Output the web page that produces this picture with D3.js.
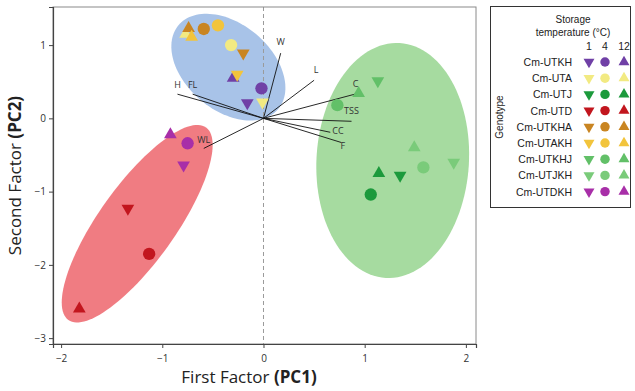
<!DOCTYPE html>
<html>
<head>
<meta charset="utf-8">
<script src="https://cdn.jsdelivr.net/npm/d3@7"></script>
<style>
  html, body { margin: 0; padding: 0; background: #fff; }
  svg { display: block; }
</style>
</head>
<body>
<svg id="chart" width="635" height="391"></svg>
<script>
// ---------------- data ----------------
const genotypes = ["Cm-UTKH","Cm-UTA","Cm-UTJ","Cm-UTD","Cm-UTKHA","Cm-UTAKH","Cm-UTKHJ","Cm-UTJKH","Cm-UTDKH"];
const temperatures = ["1","4","12"];
// PC1 / PC2 scores, per genotype, order: 1°C, 4°C, 12°C
const pc1Scores = [
  [-0.16, -0.02, -0.30],
  [-0.01, -0.32, -0.77],
  [ 1.35,  1.06,  1.14],
  [-1.34, -1.13, -1.82],
  [-0.20, -0.59, -0.74],
  [-0.26, -0.45, -0.71],
  [ 1.13,  0.73,  0.94],
  [ 1.88,  1.58,  1.49],
  [-0.79, -0.75, -0.92]
];
const pc2Scores = [
  [ 0.21,  0.41,  0.55],
  [ 0.22,  1.00,  1.15],
  [-0.78, -1.04, -0.75],
  [-1.23, -1.85, -2.60],
  [ 0.89,  1.22,  1.23],
  [ 0.60,  1.27,  1.11],
  [ 0.51,  0.18,  0.34],
  [-0.60, -0.67, -0.40],
  [-0.64, -0.34, -0.22]
];
// loading vectors
const variables = ["W","L","H","FL","WL","C","TSS","CC","F"];
const loadPC1 = [0.17, 0.50, -0.85, -0.70, -0.59, 0.93, 0.87, 0.66, 0.77];
const loadPC2 = [0.89, 0.52,  0.33,  0.33, -0.41, 0.34, -0.04, -0.19, -0.33];
// cluster ellipses: center and semi-axis vectors (data units)
const clusterNames = ["blue","green","red"];
const ellCenterX = [-0.347, 1.277, -1.248];
const ellCenterY = [ 0.699, -0.575, -1.438];
const ellMajor = [[0.493, -0.572], [0.069, 1.603], [0.680, 1.314]];
const ellMinor = [[-0.273, -0.451], [0.752, -0.062], [0.306, -0.303]];
const xTicks = [-2, -1, 0, 1, 2];
const yTicks = [1, 0, -1, -2, -3];

// ---------------- styles ----------------
const genoColors = ["#7040a6","#f2ea82","#1c9a3c","#c2161e","#c98522","#f2c43c","#62c068","#7acb7a","#a82fa8"];
const ellColors = { blue: "#a8c3e8", green: "#a6dba0", red: "#f07c82" };
const labelOffsets = {
  W:  [0, -8, "middle"], L: [2, -7, "middle"], H: [0, -6, "middle"], FL: [0, -6, "middle"],
  WL: [0, -5, "middle"], C: [-2, -6, "middle"], TSS: [0, -7, "middle"], CC: [2, 2, "start"], F: [-1, 6, "start"]
};

// ---------------- layout ----------------
const svg = d3.select("#chart");
const L = 53, R = 476, T = 7, B = 344;
const x = d3.scaleLinear().domain([-2.08, 2.10]).range([L, R]);
const y = d3.scaleLinear().domain([-3.08, 1.52]).range([B, T]);

// ellipses
const ellLine = d3.line().x(d => x(d[0])).y(d => y(d[1])).curve(d3.curveLinearClosed);
const ellG = svg.append("g");
clusterNames.forEach((name, i) => {
  const pts = d3.range(0, 360, 3).map(a => {
    const t = a * Math.PI / 180;
    return [
      ellCenterX[i] + Math.cos(t) * ellMajor[i][0] + Math.sin(t) * ellMinor[i][0],
      ellCenterY[i] + Math.cos(t) * ellMajor[i][1] + Math.sin(t) * ellMinor[i][1]
    ];
  });
  ellG.append("path").attr("d", ellLine(pts)).attr("fill", ellColors[name]);
});

// dashed zero line
svg.append("line")
  .attr("x1", x(0)).attr("x2", x(0)).attr("y1", T).attr("y2", B)
  .attr("stroke", "#9a9a9a").attr("stroke-width", 1).attr("stroke-dasharray", "4,3");

// loadings
const loadG = svg.append("g");
variables.forEach((v, i) => {
  loadG.append("line")
    .attr("x1", x(0)).attr("y1", y(0))
    .attr("x2", x(loadPC1[i])).attr("y2", y(loadPC2[i]))
    .attr("stroke", "#111").attr("stroke-width", 0.9);
  const o = labelOffsets[v];
  loadG.append("text")
    .attr("x", x(loadPC1[i]) + o[0]).attr("y", y(loadPC2[i]) + o[1])
    .attr("text-anchor", o[2])
    .attr("font-family", "Open Sans, sans-serif").attr("font-size", 9)
    .attr("fill", "#333").text(v);
});

// points
const shapes = [
  { type: d3.symbolTriangle, rot: 180 },
  { type: d3.symbolCircle, rot: 0 },
  { type: d3.symbolTriangle, rot: 0 }
];
const ptG = svg.append("g");
genotypes.forEach((g, gi) => {
  temperatures.forEach((t, ti) => {
    const s = shapes[ti];
    const size = s.type === d3.symbolCircle ? 120 : 70;
    ptG.append("path")
      .attr("d", d3.symbol().type(s.type).size(size)())
      .attr("transform", `translate(${x(pc1Scores[gi][ti])},${y(pc2Scores[gi][ti])}) rotate(${s.rot})`)
      .attr("fill", genoColors[gi]);
  });
});

// frame
svg.append("rect").attr("x", L).attr("y", T).attr("width", R - L).attr("height", B - T)
  .attr("fill", "none").attr("stroke", "#8a8a8a").attr("stroke-width", 1);

// axes
const xAxis = svg.append("g").attr("transform", `translate(0,${B})`)
  .call(d3.axisBottom(x).tickValues(xTicks).tickSize(4).tickFormat(d3.format("d")));
const yAxis = svg.append("g").attr("transform", `translate(${L},0)`)
  .call(d3.axisLeft(y).tickValues(yTicks).tickSize(4).tickFormat(d3.format("d")));
[xAxis, yAxis].forEach(a => {
  a.select(".domain").attr("stroke", "#444").attr("stroke-width", 1.2);
  a.selectAll(".tick line").attr("stroke", "#444");
  a.selectAll(".tick text").attr("font-family", "Open Sans, sans-serif").attr("font-size", 10).attr("fill", "#333");
});
xAxis.selectAll(".tick text").attr("dy", "1.05em");

// axis titles
const xt = svg.append("text").attr("x", 249).attr("y", 383)
  .attr("text-anchor", "middle").attr("font-family", "Open Sans, sans-serif").attr("font-size", 17).attr("fill", "#222");
xt.append("tspan").text("First Factor ");
xt.append("tspan").attr("font-weight", "bold").text("(PC1)");

const yt = svg.append("text").attr("transform", `translate(21,${(T + B) / 2}) rotate(-90)`)
  .attr("text-anchor", "middle").attr("font-family", "Open Sans, sans-serif").attr("font-size", 17).attr("fill", "#222");
yt.append("tspan").text("Second Factor ");
yt.append("tspan").attr("font-weight", "bold").text("(PC2)");

// legend
const lg = svg.append("g");
lg.append("rect").attr("x", 490.5).attr("y", 6.5).attr("width", 140).attr("height", 201)
  .attr("fill", "#fff").attr("stroke", "#333").attr("stroke-width", 1);
const lf = "Liberation Sans, Arial, sans-serif";
lg.append("text").attr("x", 573).attr("y", 23).attr("text-anchor", "middle")
  .attr("font-family", lf).attr("font-size", 10).attr("fill", "#222").text("Storage");
lg.append("text").attr("x", 573).attr("y", 36).attr("text-anchor", "middle")
  .attr("font-family", lf).attr("font-size", 10).attr("fill", "#222").text("temperature (°C)");
const colX = [589, 605, 624];
temperatures.forEach((t, ti) => {
  lg.append("text").attr("x", colX[ti]).attr("y", 50).attr("text-anchor", "middle")
    .attr("font-family", lf).attr("font-size", 10.5).attr("fill", "#222").text(t);
});
lg.append("text").attr("transform", "translate(503,117) rotate(-90)").attr("text-anchor", "middle")
  .attr("font-family", lf).attr("font-size", 10).attr("fill", "#222").text("Genotype");
genotypes.forEach((g, gi) => {
  const ry = 62 + gi * 16.2;
  lg.append("text").attr("x", 572).attr("y", ry + 4).attr("text-anchor", "end")
    .attr("font-family", lf).attr("font-size", 10.5).attr("fill", "#222").text(g);
  temperatures.forEach((t, ti) => {
    const s = shapes[ti];
    const size = s.type === d3.symbolCircle ? 70 : 52;
    lg.append("path")
      .attr("d", d3.symbol().type(s.type).size(size)())
      .attr("transform", `translate(${colX[ti]},${ry}) rotate(${s.rot})`)
      .attr("fill", genoColors[gi]);
  });
});
</script>
</body>
</html>
